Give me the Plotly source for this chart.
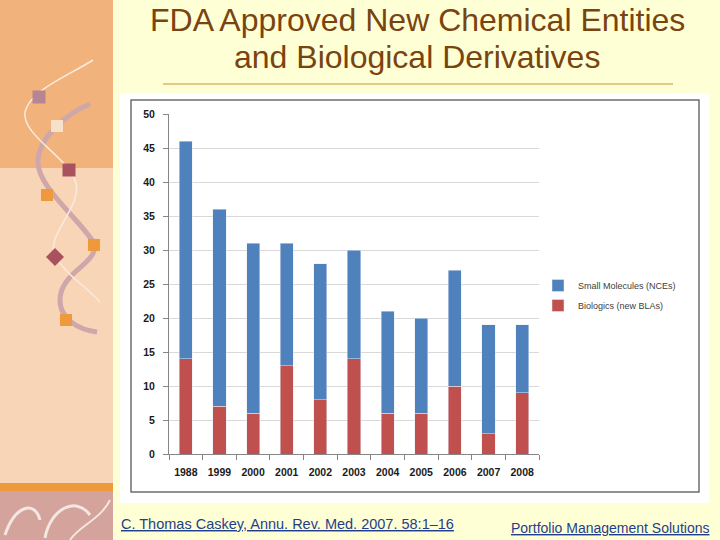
import plotly.graph_objects as go

years = ["1988", "1999", "2000", "2001", "2002", "2003", "2004", "2005", "2006", "2007", "2008"]
totals = [46, 36, 31, 31, 28, 30, 21, 20, 27, 19, 19]
biologics = [14, 7, 6, 13, 8, 14, 6, 6, 10, 3, 9]
small_molecules = [t - b for t, b in zip(totals, biologics)]

y_ticks = [0, 5, 10, 15, 20, 25, 30, 35, 40, 45, 50]

W, H = 720, 540
# plot area in pixels
PL, PR, PT, PB = 169, 539, 114, 454


def px(x):
    return (x - PL) / (PR - PL)


def py(y):
    return (PB - y) / (PB - PT)


def rect(x0, y0, x1, y1, color, line=None, layer="below"):
    d = dict(type="rect", xref="paper", yref="paper",
             x0=px(x0), x1=px(x1), y0=py(y1), y1=py(y0),
             fillcolor=color, layer=layer, line=dict(width=0))
    if line:
        d["line"] = line
    return d


def curve(points, color, width):
    # points in pixels: start, then triplets of cubic bezier controls
    s = "M %f,%f" % (px(points[0][0]), py(points[0][1]))
    rest = points[1:]
    for i in range(0, len(rest), 3):
        a, b, c = rest[i:i + 3]
        s += " C %f,%f %f,%f %f,%f" % (px(a[0]), py(a[1]), px(b[0]), py(b[1]), px(c[0]), py(c[1]))
    return dict(type="path", xref="paper", yref="paper", path=s, layer="below",
                line=dict(color=color, width=width))


def square(cx, cy, size, color):
    return rect(cx - size / 2, cy - size / 2, cx + size / 2, cy + size / 2, color)


def diamond(cx, cy, r, color):
    s = "M %f,%f L %f,%f L %f,%f L %f,%f Z" % (
        px(cx), py(cy - r), px(cx + r), py(cy), px(cx), py(cy + r), px(cx - r), py(cy))
    return dict(type="path", xref="paper", yref="paper", path=s, layer="below",
                fillcolor=color, line=dict(width=0))


fig = go.Figure()
fig.add_trace(go.Bar(x=years, y=biologics, name="Biologics (new BLAs)",
                     marker=dict(color="#C0504D"), legendgroup="b", legendrank=2))
fig.add_trace(go.Bar(x=years, y=small_molecules, name="Small Molecules (NCEs)",
                     marker=dict(color="#4F81BD"), legendgroup="a", legendrank=1))

shapes = [
    # left decorative strip
    rect(0, 0, 113, 168, "#F1B27C"),
    rect(0, 168, 113, 483, "#F8D5B6"),
    rect(0, 483, 113, 491, "#EE9A3C"),
    rect(0, 491, 113, 540, "#D4A39C"),
    # white card + chart frame
    rect(120, 93, 709, 503, "#FFFFFF"),
    rect(131, 100, 699, 492, "#FFFFFF", line=dict(color="#6E6E6E", width=1.5)),
    # title separator
    dict(type="line", xref="paper", yref="paper", x0=px(163), x1=px(673),
         y0=py(84), y1=py(84), line=dict(color="#E2C98A", width=2)),
]

# swirls in the bottom patterned block
shapes += [
    curve([(5, 535), (15, 505), (35, 500), (40, 520)], "#F4E6E0", 3),
    curve([(45, 538), (50, 510), (75, 495), (90, 515)], "#F4E6E0", 3),
    curve([(70, 540), (80, 525), (100, 520), (110, 500)], "#F4E6E0", 2),
]

# ribbons
shapes += [
    curve([(90, 104), (70, 112), (40, 135), (38, 160), (36, 185), (75, 215), (92, 240),
           (105, 262), (60, 270), (60, 300), (60, 320), (80, 330), (97, 332)], "#CFA7AA", 5),
    curve([(93, 60), (70, 75), (30, 90), (25, 112), (22, 135), (65, 155), (75, 180),
           (85, 205), (45, 235), (55, 255), (65, 275), (85, 285), (100, 302)], "#FBEBDD", 1.5),
]
shapes += [
    square(39, 97, 13, "#B58592"),
    square(57, 126, 12, "#F8E1CB"),
    square(69, 170, 13, "#A9525F"),
    square(47, 195, 12, "#EE9A3C"),
    square(94, 245, 12, "#EE9A3C"),
    diamond(55, 257, 9, "#A9525F"),
    square(66, 320, 12, "#EE9A3C"),
]

title_font = dict(family="Liberation Sans, Arial", size=32, color="#7A4410")
foot_font = dict(family="Liberation Sans, Arial", size=14.5, color="#1F3E8C")

annotations = [
    dict(text="FDA Approved New Chemical Entities", x=px(417), y=py(20),
         xref="paper", yref="paper", showarrow=False, font=title_font,
         xanchor="center", yanchor="middle"),
    dict(text="and Biological Derivatives", x=px(417), y=py(57),
         xref="paper", yref="paper", showarrow=False, font=title_font,
         xanchor="center", yanchor="middle"),
    dict(text="<u>C. Thomas Caskey, Annu. Rev. Med. 2007. 58:1–16</u>", x=px(119), y=py(524),
         xref="paper", yref="paper", showarrow=False, font=foot_font,
         xanchor="left", yanchor="middle"),
    dict(text="<u>Portfolio Management Solutions</u>", x=px(711), y=py(528),
         xref="paper", yref="paper", showarrow=False,
         font=dict(family="Liberation Sans, Arial", size=14, color="#1F3E8C"),
         xanchor="right", yanchor="middle"),
]

tick_font = dict(family="Liberation Sans, Arial", size=10.5, color="#1a1a1a", weight="bold")

fig.update_layout(
    width=W, height=H,
    margin=dict(l=PL, r=W - PR, t=PT, b=H - PB, pad=0),
    paper_bgcolor="#FFFFD6",
    plot_bgcolor="#FFFFFF",
    barmode="stack",
    bargap=0.61,
    shapes=shapes,
    annotations=annotations,
    showlegend=True,
    legend=dict(x=px(538), y=py(271), xanchor="left", yanchor="top",
                bgcolor="rgba(0,0,0,0)", traceorder="grouped",
                tracegroupgap=1, itemwidth=30,
                font=dict(family="Liberation Sans, Arial", size=9, color="#404040")),
    font=dict(family="Liberation Sans, Arial"),
)

fig.update_xaxes(
    type="category", showgrid=False, showline=True, linecolor="#868686", linewidth=1,
    ticks="outside", tickson="boundaries", ticklen=5, tickcolor="#868686",
    tickfont=tick_font, tickangle=0, ticklabelstandoff=8,
)
fig.update_yaxes(
    range=[0, 50], tickvals=y_ticks, showgrid=True, gridcolor="#D9D9D9", gridwidth=1,
    showline=True, linecolor="#868686", linewidth=1, zeroline=False,
    ticks="outside", ticklen=5, tickcolor="#868686",
    tickfont=tick_font, ticklabelstandoff=6,
)

fig.write_html("out.html", config={"displayModeBar": False},
               post_script="document.body.style.margin='0px';")
